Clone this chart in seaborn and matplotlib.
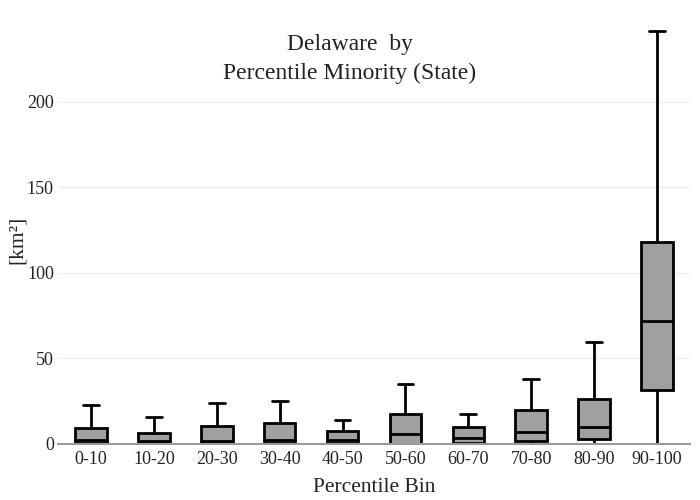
import numpy as np
import pandas as pd
import matplotlib
matplotlib.use("Agg")
import matplotlib.pyplot as plt
import seaborn as sns

# === DATA ===
bins = ["0-10", "10-20", "20-30", "30-40", "40-50",
        "50-60", "60-70", "70-80", "80-90", "90-100"]
lower_whisker = [0.0, 0.0, 0.0, 0.0, 0.0, 0.0, 0.0, 0.0, 0.0, 0.0]
q1 = [0.6, 0.6, 0.6, 0.6, 0.6, 0.2, 0.6, 1.8, 2.9, 31.6]
median = [2.3, 1.8, 1.8, 2.3, 2.3, 5.8, 3.5, 7.0, 10.0, 72.0]
q3 = [9.4, 6.4, 10.5, 12.3, 7.6, 17.5, 9.9, 20.0, 26.3, 118.0]
upper_whisker = [22.8, 15.8, 24.0, 25.1, 14.0, 35.0, 17.5, 38.0, 59.6, 241.5]

# five numbers per bin -> linear quantiles land exactly on them
rows = []
for i, b in enumerate(bins):
    for v in (lower_whisker[i], q1[i], median[i], q3[i], upper_whisker[i]):
        rows.append({"bin": b, "area": v})
df = pd.DataFrame(rows)

# === STYLE ===
sns.set_style("white")
plt.rcParams["font.family"] = ["Liberation Serif", "DejaVu Serif"]

fig = plt.figure(figsize=(7, 5), dpi=100)
ax = fig.add_axes([58 / 700, 56 / 500, 632 / 700, 421 / 500])

sns.boxplot(data=df, x="bin", y="area", order=bins, whis=(0, 100),
            width=0.5, color="#a0a0a0", saturation=1, linewidth=2,
            linecolor="black", showfliers=False, ax=ax)

ax.set_xlim(-0.525, 9.525)
ax.set_ylim(0, 246)
ax.set_yticks([0, 50, 100, 150, 200])
ax.yaxis.grid(True, color="#ececec", linewidth=1)
ax.set_axisbelow(True)
for s in ["top", "right", "left"]:
    ax.spines[s].set_visible(False)
ax.spines["bottom"].set_color("#9a9a9a")
ax.spines["bottom"].set_linewidth(1.5)
ax.tick_params(axis="both", length=0, labelsize=13, colors="#222222")
ax.tick_params(axis="y", pad=3)
ax.tick_params(axis="x", pad=5)

ax.set_xlabel("Percentile Bin", fontsize=15.5, color="#222222", labelpad=7)
ax.set_ylabel("")
fig.text(17 / 700, 1 - 240 / 500, "[km²]", rotation=90, ha="center", va="center",
         fontsize=15.5, color="#222222")
fig.text(0.5, 0.882, "Delaware  by\nPercentile Minority (State)",
         ha="center", va="center", fontsize=17, color="#222222", linespacing=1.5)

fig.savefig("out.png", dpi=100)
